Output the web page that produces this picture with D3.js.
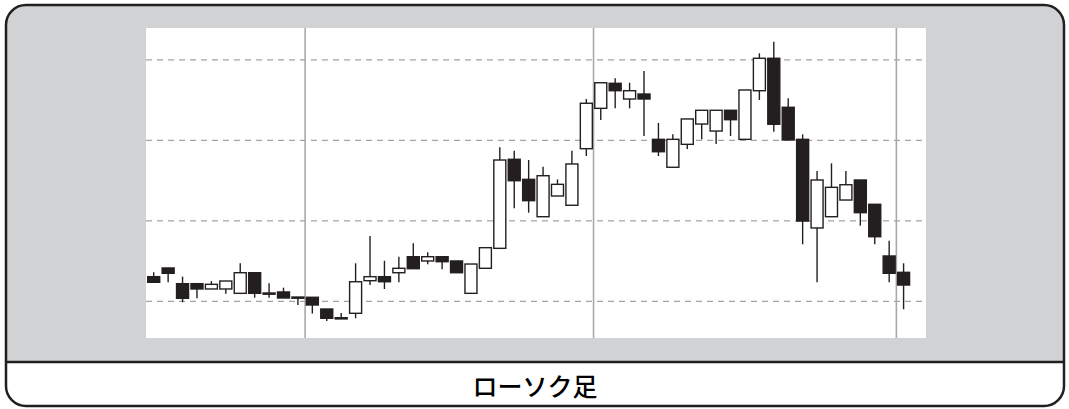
<!DOCTYPE html>
<html><head><meta charset="utf-8">
<script src="https://cdn.jsdelivr.net/npm/d3@7/dist/d3.min.js"></script>
<style>html,body{margin:0;padding:0;background:#fff;}svg{display:block;}</style>
</head><body>
<svg id="c" width="1069" height="409"></svg>
<script>
// ---- data ----
const caption = "ローソク足";
const opens  = [130.6,141.4,121.9,121.9,115.3,115.3,109.9,135.5,110.3,111.6,105.3,105.0,90.4,79.6,85.1,125.6,130.6,135.5,155.4,150.1,155.4,150.1,109.9,141.0,165.8,276.4,251.5,205.1,230.8,219.3,289.6,339.7,370.8,351.3,357.5,301.2,266.5,295.0,320.2,311.5,337.3,301.2,361.6,401.9,341.0,301.2,191.1,205.1,225.8,250.7,220.5,156.3,136.0];
const highs  = [136.0,141.4,130.6,121.9,125.2,125.2,147.2,135.5,122.4,116.9,105.3,105.0,90.4,85.5,147.2,181.1,150.4,155.4,172.0,160.9,155.4,150.1,146.3,166.6,291.3,287.1,275.5,267.2,251.5,287.1,351.3,371.5,377.0,371.5,386.1,321.5,307.4,326.5,337.3,337.3,337.3,362.5,408.1,422.5,352.2,307.4,261.9,271.4,261.9,250.7,220.5,175.3,147.2];
const lows   = [123.6,123.6,98.8,103.7,115.3,109.4,109.9,104.5,104.5,104.1,95.4,84.8,75.5,79.6,78.9,120.2,115.3,123.6,140.5,146.0,139.8,135.5,109.9,141.0,165.8,215.5,210.1,205.1,230.8,219.3,280.5,325.2,339.7,339.7,305.3,280.5,266.5,289.2,301.2,295.4,305.3,301.2,350.1,310.7,300.4,170.8,123.6,205.1,225.8,193.9,170.8,123.6,90.1];
const closes = [123.6,134.8,103.7,115.3,121.1,125.2,135.5,109.9,110.3,104.1,105.3,95.4,78.9,79.6,124.3,130.6,124.3,141.0,140.5,155.4,149.2,135.5,146.3,166.6,275.5,249.8,225.0,256.0,245.3,270.6,346.0,371.5,361.6,361.6,351.3,285.8,301.2,326.5,337.3,337.3,325.6,362.5,401.9,319.9,300.4,199.7,250.7,241.6,244.8,210.1,180.2,134.8,120.2];
const gridLevels = [100, 200, 300, 400];
const periodStarts = [11, 31, 52]; // candle indices where a new period begins

// ---- layout ----
const svg = d3.select("#c");
const plot = {x0:146, x1:926, y0:28, y1:338};
const ink = "#231f20";

// frame
svg.append("path")
  .attr("d", () => {
    const x0=6,y0=5,x1=1064,y1=362,r=20;
    return `M${x0},${y1} L${x0},${y0+r} Q${x0},${y0} ${x0+r},${y0} L${x1-r},${y0} Q${x1},${y0} ${x1},${y0+r} L${x1},${y1} Z`;
  })
  .attr("fill","#d1d2d4");
svg.append("rect").attr("x",plot.x0).attr("y",plot.y0)
  .attr("width",plot.x1-plot.x0).attr("height",plot.y1-plot.y0).attr("fill","#fff");

const idx = d3.range(opens.length);
const x = d3.scaleBand().domain(idx).range([146.5, 910.8]).paddingInner(0).paddingOuter(0);
const y = d3.scaleLinear().domain([100,400]).range([301.3,59.8]);
const bw = 12;

// grid
svg.append("g").selectAll("line").data(gridLevels).join("line")
  .attr("x1",plot.x0).attr("x2",plot.x1)
  .attr("y1",d=>y(d)).attr("y2",d=>y(d))
  .attr("stroke","#a3a3a3").attr("stroke-width",1.3).attr("stroke-dasharray","6,5");

svg.append("g").selectAll("line").data(periodStarts).join("line")
  .attr("x1",d=>x(d)).attr("x2",d=>x(d))
  .attr("y1",plot.y0).attr("y2",plot.y1)
  .attr("stroke","#a7a9ac").attr("stroke-width",1.6);

// candles
const g = svg.append("g");
const cx = i => x(i) + x.bandwidth()/2;
g.selectAll("line.w").data(idx).join("line").attr("class","w")
  .attr("x1",cx).attr("x2",cx)
  .attr("y1",i=>y(highs[i])).attr("y2",i=>y(lows[i]))
  .attr("stroke",ink).attr("stroke-width",1.4);
g.selectAll("rect.b").data(idx).join("rect").attr("class","b")
  .attr("x",i=>cx(i)-bw/2).attr("width",bw)
  .attr("y",i=>y(Math.max(opens[i],closes[i])))
  .attr("height",i=>Math.max(1.2, Math.abs(y(opens[i])-y(closes[i]))))
  .attr("fill",i=>closes[i]>opens[i] ? "#fff" : ink)
  .attr("stroke",ink).attr("stroke-width",1.4);

// frame outline and separator
svg.append("rect").attr("x",6).attr("y",5).attr("width",1058).attr("height",401)
  .attr("rx",20).attr("ry",20).attr("fill","none").attr("stroke",ink).attr("stroke-width",2.5);
svg.append("line").attr("x1",6).attr("x2",1064).attr("y1",362).attr("y2",362)
  .attr("stroke",ink).attr("stroke-width",2.5);

svg.append("text").attr("x",535).attr("y",385)
  .attr("text-anchor","middle").attr("dominant-baseline","central")
  .attr("font-family","'Noto Sans CJK JP','Noto Sans',sans-serif")
  .attr("font-size",25).attr("font-weight",500).attr("fill","#000")
  .text(caption);
</script>
</body></html>
